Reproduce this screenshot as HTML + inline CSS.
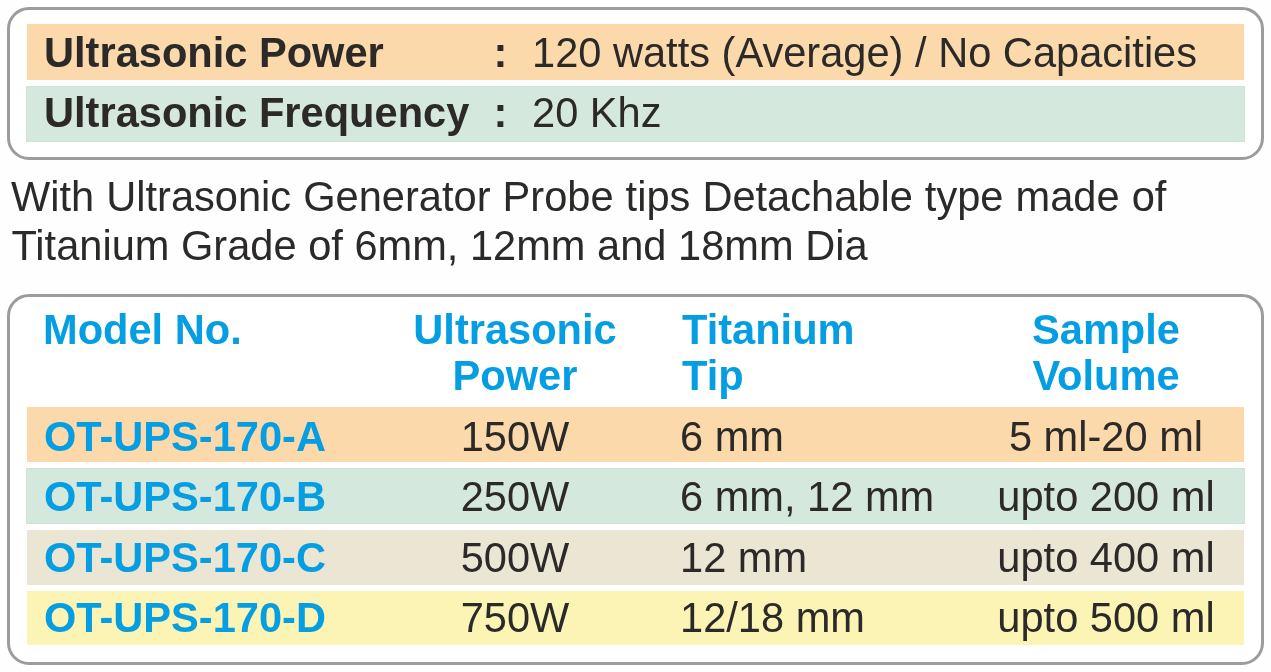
<!DOCTYPE html>
<html>
<head>
<meta charset="utf-8">
<title>Ultrasonic Probe Sonicator Specifications</title>
<style>
html,body{margin:0;padding:0;}
body{width:1271px;height:672px;background:#fefefe;position:relative;overflow:hidden;
 font-family:"Liberation Sans",Arial,Helvetica,sans-serif;font-size:41.6px;color:#2b2a29;}
.box{position:absolute;box-sizing:border-box;border:3px solid #9b9c9c;border-radius:22px;background:#fff;}
#box1{left:7px;top:7px;width:1257px;height:153px;}
#box2{left:7px;top:294px;width:1257px;height:371px;}
.band{position:absolute;left:27px;width:1217px;box-sizing:border-box;}
.t{position:absolute;white-space:nowrap;line-height:48px;height:48px;}
.b{font-weight:bold;}
.blue{color:#059ee2;font-weight:bold;}
.c{text-align:center;}
.orange{background:#fbd9ab;}
.green{background:#d4e8dd;}
.beige{background:#ebe5d3;}
.yellow{background:#fcf4b5;}
</style>
</head>
<body>
<div class="box" id="box1"></div>
<div class="band orange" style="top:24px;height:56px;"></div>
<div class="band green" style="top:86px;height:56px;left:26px;width:1219px;border:1px solid #cbe5d5;"></div>
<div class="t b" style="left:44px;top:29px;">Ultrasonic Power</div>
<div class="t b" style="left:493.5px;top:29px;">:</div>
<div class="t" style="left:532px;top:29px;">120 watts (Average) / No Capacities</div>
<div class="t b" style="left:44px;top:89px;">Ultrasonic Frequency</div>
<div class="t b" style="left:493.5px;top:89px;">:</div>
<div class="t" style="left:532px;top:89px;">20 Khz</div>

<div class="t" style="left:11px;top:173px;word-spacing:0.5px;">With Ultrasonic Generator Probe tips Detachable type made of</div>
<div class="t" style="left:11.5px;top:222px;">Titanium Grade of 6mm, 12mm and 18mm Dia</div>

<div class="box" id="box2"></div>
<div class="band orange" style="top:407px;height:55px;"></div>
<div class="band green" style="top:468px;height:56px;left:26px;width:1219px;border:1px solid #cbe5d5;"></div>
<div class="band beige" style="top:530px;height:55px;"></div>
<div class="band yellow" style="top:591px;height:54px;"></div>

<div class="t blue" style="left:43px;top:306px;">Model No.</div>
<div class="t blue c" style="left:365px;width:300px;top:306px;">Ultrasonic</div>
<div class="t blue c" style="left:365px;width:300px;top:352px;">Power</div>
<div class="t blue" style="left:682px;top:306px;">Titanium</div>
<div class="t blue" style="left:682px;top:352px;">Tip</div>
<div class="t blue c" style="left:956px;width:300px;top:306px;">Sample</div>
<div class="t blue c" style="left:956px;width:300px;top:352px;">Volume</div>

<div class="t blue" style="left:44px;top:413px;">OT-UPS-170-A</div>
<div class="t c" style="left:365px;width:300px;top:413px;">150W</div>
<div class="t" style="left:680px;top:413px;">6 mm</div>
<div class="t c" style="left:956px;width:300px;top:413px;">5 ml-20 ml</div>

<div class="t blue" style="left:44px;top:473px;">OT-UPS-170-B</div>
<div class="t c" style="left:365px;width:300px;top:473px;">250W</div>
<div class="t" style="left:680px;top:473px;">6 mm, 12 mm</div>
<div class="t c" style="left:956px;width:300px;top:473px;">upto 200 ml</div>

<div class="t blue" style="left:44px;top:534px;">OT-UPS-170-C</div>
<div class="t c" style="left:365px;width:300px;top:534px;">500W</div>
<div class="t" style="left:680px;top:534px;">12 mm</div>
<div class="t c" style="left:956px;width:300px;top:534px;">upto 400 ml</div>

<div class="t blue" style="left:44px;top:594px;">OT-UPS-170-D</div>
<div class="t c" style="left:365px;width:300px;top:594px;">750W</div>
<div class="t" style="left:680px;top:594px;">12/18 mm</div>
<div class="t c" style="left:956px;width:300px;top:594px;">upto 500 ml</div>
</body>
</html>
